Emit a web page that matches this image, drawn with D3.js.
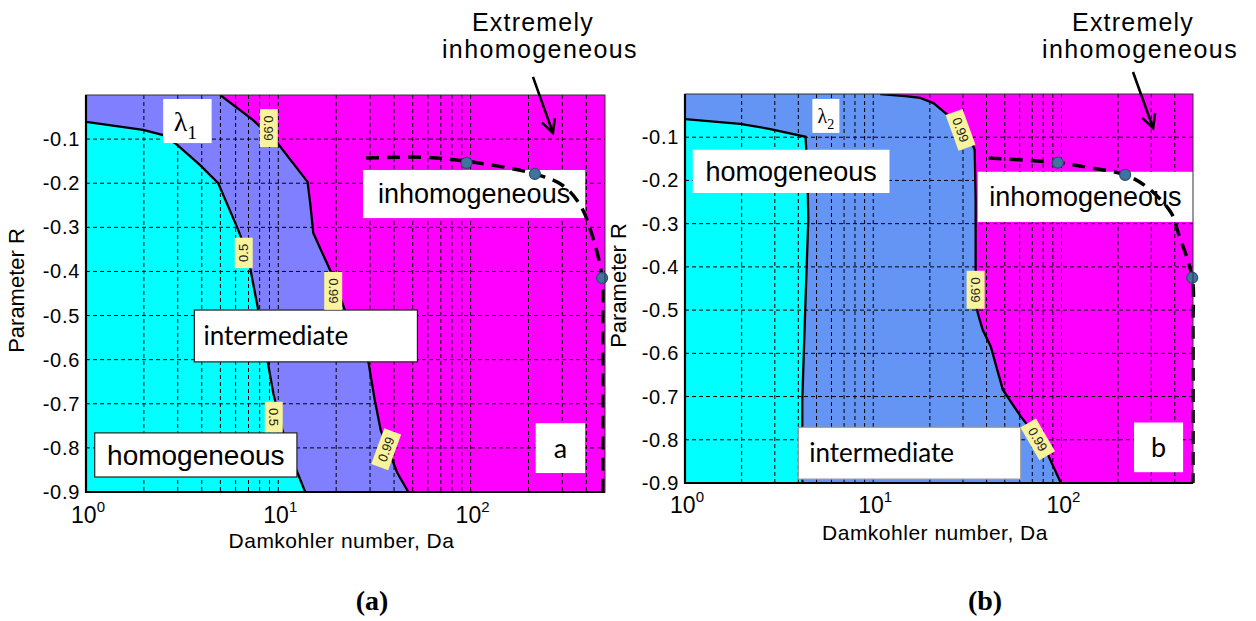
<!DOCTYPE html>
<html><head><meta charset="utf-8">
<script src="https://cdn.jsdelivr.net/npm/d3@7"></script>
<style>body{margin:0;background:#fff}</style>
</head><body>
<svg id="fig" width="1256" height="621"></svg>
<script>
// ---- axis ticks ----
const daDomain = [1, 500];
const rDomain = [-0.9, 0];
const daMajorTicks = [1, 10, 100];
const daGridTicks = [2,3,4,5,6,7,8,9,10,20,30,40,50,60,70,80,90,100,200,300,400];
const rTicks = [-0.1,-0.2,-0.3,-0.4,-0.5,-0.6,-0.7,-0.8,-0.9];

// ---- panel (a): lambda_1 ----
const aContourLow = [[1,-0.061],[1.98,-0.079],[2.52,-0.091],[2.98,-0.113],[3.92,-0.159],[4.87,-0.2],[6.11,-0.3],[6.9,-0.358],[7.87,-0.488],[8.77,-0.6],[9.42,-0.676],[10.5,-0.76],[12.6,-0.857],[13.8,-0.9]];
const aContourHigh = [[4.99,0],[7.4,-0.057],[9.9,-0.109],[14.2,-0.197],[14.7,-0.25],[15.2,-0.313],[19.1,-0.408],[22.2,-0.488],[26.7,-0.556],[29.5,-0.608],[31.7,-0.69],[34.1,-0.76],[41.6,-0.857],[47.5,-0.9]];
const aBoundary = [[28.6,-0.143],[55.5,-0.141],[95.3,-0.150],[216,-0.179],[299,-0.204],[371,-0.249],[428,-0.317],[483,-0.415],[487,-0.533],[487,-0.9]];
const aPoints = [[95.3,-0.154],[216,-0.179],[483,-0.415]];
const aLabelValues = ["0.99","0.5","0.99","0.5","0.99"];
const aLabelAt = [[8.92,-0.075],[6.61,-0.358],[19.3,-0.444],[9.47,-0.73],[36.4,-0.803]];

// ---- panel (b): lambda_2 ----
const bContourLow = [[1,-0.058],[1.96,-0.069],[2.84,-0.081],[4.37,-0.099],[4.47,-0.175],[4.52,-0.29],[4.37,-0.476],[4.2,-0.707],[4.2,-0.9]];
const bContourHigh = [[10.9,0],[14.8,-0.005],[17.8,-0.009],[20.9,-0.021],[24.2,-0.044],[28.1,-0.067],[32.1,-0.095],[34.6,-0.129],[35,-0.245],[35,-0.476],[35.9,-0.506],[38.1,-0.545],[42.1,-0.584],[48.8,-0.684],[60.8,-0.746],[68.7,-0.776],[84.7,-0.834],[99.3,-0.9]];
const bBoundary = [[41.1,-0.148],[95.7,-0.159],[143.5,-0.171],[218,-0.187],[288,-0.217],[383,-0.275],[417,-0.321],[495,-0.425],[500,-0.538],[500,-0.9]];
const bPoints = [[95.7,-0.159],[218,-0.187],[495,-0.425]];
const bLabelValues = ["0.99","0.99","0.99"];
const bLabelAt = [[29.1,-0.083],[35,-0.453],[74.8,-0.799]];

const svg = d3.select("#fig");
const SANS = "'Liberation Sans', Arial, sans-serif";
const SOFT = "Lato, 'Open Sans', sans-serif";

function drawPanel(p) {
  const x = d3.scaleLog().domain(daDomain).range([p.left, p.right]);
  const y = d3.scaleLinear().domain(rDomain).range([p.bottom, p.top]);
  const g = svg.append("g");
  const clipId = "clip-" + p.id;
  g.append("clipPath").attr("id", clipId).append("rect")
    .attr("x", p.left).attr("y", p.top)
    .attr("width", p.right - p.left).attr("height", p.bottom - p.top);
  const line = d3.line().x(d => x(d[0])).y(d => y(d[1]));

  const plot = g.append("g").attr("clip-path", `url(#${clipId})`);
  // filled level regions
  plot.append("rect").attr("x", p.left).attr("y", p.top)
    .attr("width", p.right - p.left).attr("height", p.bottom - p.top)
    .attr("fill", "#ff00ff");
  plot.append("path").attr("d", line(p.high.concat([[1,-0.9],[1,0]])) + "Z")
    .attr("fill", p.midColor);
  plot.append("path").attr("d", line(p.low.concat([[1,-0.9]])) + "Z")
    .attr("fill", "#00ffff");

  // dashed grid
  plot.selectAll(".gx").data(daGridTicks).join("line")
    .attr("x1", d => x(d)).attr("x2", d => x(d))
    .attr("y1", p.top).attr("y2", p.bottom)
    .attr("stroke", "#000").attr("stroke-width", 1).attr("stroke-dasharray", "4,3");
  plot.selectAll(".gy").data(rTicks).join("line")
    .attr("x1", p.left).attr("x2", p.right)
    .attr("y1", d => y(d)).attr("y2", d => y(d))
    .attr("stroke", "#000").attr("stroke-width", 1).attr("stroke-dasharray", "4,3");

  // contour lines
  [p.low, p.high].forEach(c => plot.append("path").attr("d", line(c))
    .attr("fill", "none").attr("stroke", "#000").attr("stroke-width", 2.3));

  // annotation boxes (data coordinates)
  p.boxes.forEach(b => {
    const bx0 = x(b.da[0]), bx1 = x(b.da[1]), by0 = y(b.r[0]), by1 = y(b.r[1]);
    g.append("rect").attr("x", bx0).attr("y", by0)
      .attr("width", bx1 - bx0).attr("height", by1 - by0)
      .attr("fill", "#fff").attr("stroke", b.stroke || "none").attr("stroke-width", 1.2);
    const t = g.append("text").attr("x", (bx0 + bx1) / 2 + (b.dx || 0)).attr("y", (by0 + by1) / 2 + b.size * 0.35)
      .attr("text-anchor", "middle").attr("font-family", b.font).attr("font-size", b.size)
      .attr("fill", "#000");
    if (b.sub) {
      t.append("tspan").text(b.text);
      t.append("tspan").attr("dy", b.size * 0.3).attr("font-size", b.size * 0.7).text(b.sub);
    } else t.text(b.text);
  });

  // inline contour labels
  p.labelValues.forEach((v, i) => {
    const [da, r] = p.labelAt[i];
    const lg = g.append("g").attr("transform", `translate(${x(da)},${y(r)}) rotate(${p.labelAngles[i]})`);
    const w = v.length * 7.5 + 8;
    lg.append("rect").attr("x", -w / 2).attr("y", -9).attr("width", w).attr("height", 18)
      .attr("fill", "#f8f39c");
    lg.append("text").attr("x", 0).attr("y", 4.5).attr("text-anchor", "middle")
      .attr("font-family", SANS).attr("font-size", 13).attr("fill", "#222").text(v);
  });

  // boundary of the extremely inhomogeneous regime
  g.append("path").attr("d", d3.line().curve(d3.curveCatmullRom).x(d => x(d[0])).y(d => y(d[1]))(p.boundary))
    .attr("fill", "none").attr("stroke", "#000").attr("stroke-width", 3.5)
    .attr("stroke-dasharray", "13,8");
  g.selectAll(".pt").data(p.points).join("circle")
    .attr("cx", d => x(d[0])).attr("cy", d => y(d[1])).attr("r", 5.5)
    .attr("fill", "#41739f").attr("stroke", "#2c4f73").attr("stroke-width", 1.2);

  // axes frame
  g.append("rect").attr("x", p.left).attr("y", p.top)
    .attr("width", p.right - p.left).attr("height", p.bottom - p.top)
    .attr("fill", "none").attr("stroke", "#333").attr("stroke-width", 1);
  g.append("path").attr("d", `M${p.left},${p.top}V${p.bottom}H${p.right}`)
    .attr("fill", "none").attr("stroke", "#000").attr("stroke-width", 2.2);

  // tick labels
  g.selectAll(".ty").data(rTicks).join("text")
    .attr("x", p.left - 6).attr("y", d => y(d) + 7)
    .attr("text-anchor", "end").attr("font-family", SANS).attr("font-size", 20)
    .attr("letter-spacing", 0.7).attr("fill", "#000")
    .text(d => d.toFixed(1));
  const tx = g.selectAll(".tx").data(daMajorTicks).join("text")
    .attr("x", d => x(d) + 2).attr("y", p.bottom + p.tickGap)
    .attr("text-anchor", "middle").attr("font-family", SANS).attr("font-size", 23).attr("fill", "#000");
  tx.append("tspan").text("10");
  tx.append("tspan").attr("dy", -11).attr("font-size", 15).text(d => Math.round(Math.log10(d)));

  // axis titles
  g.append("text").attr("x", (p.left + p.right) / 2 - 4).attr("y", p.bottom + p.titleGap)
    .attr("text-anchor", "middle").attr("font-family", SANS).attr("font-size", 21)
    .attr("letter-spacing", 0.5).attr("fill", "#000").text("Damkohler number, Da");
  g.append("text").attr("transform", `translate(${p.yTitleX},${(p.top + p.bottom) / 2 - 3}) rotate(-90)`)
    .attr("text-anchor", "middle").attr("font-family", SANS).attr("font-size", 22)
    .attr("fill", "#000").text("Parameter R");

  // callout above the axes
  const cx = x(p.calloutDa);
  g.append("text").attr("x", cx).attr("y", 31).attr("text-anchor", "middle")
    .attr("font-family", SANS).attr("font-size", 25).attr("letter-spacing", 1.2).attr("fill", "#000").text("Extremely");
  g.append("text").attr("x", cx + 7).attr("y", 58).attr("text-anchor", "middle")
    .attr("font-family", SANS).attr("font-size", 25).attr("letter-spacing", 1.4).attr("fill", "#000").text("inhomogeneous");
  const [s, e] = p.arrow.map(d => [x(d[0]), y(d[1])]);
  const ang = Math.atan2(e[1] - s[1], e[0] - s[0]);
  const head = [ang + Math.PI * 0.85, ang - Math.PI * 0.85].map(a => [e[0] + 15 * Math.cos(a), e[1] + 15 * Math.sin(a)]);
  g.append("path").attr("d", `M${s[0]},${s[1]}L${e[0]},${e[1]}M${head[0][0]},${head[0][1]}L${e[0]},${e[1]}L${head[1][0]},${head[1][1]}`)
    .attr("fill", "none").attr("stroke", "#000").attr("stroke-width", 2.6);

  // panel caption
  g.append("text").attr("x", p.captionX).attr("y", 610).attr("text-anchor", "middle")
    .attr("font-family", "'Liberation Serif', 'Times New Roman', serif").attr("font-weight", "bold")
    .attr("font-size", 28).attr("fill", "#000").text(p.caption);
}

drawPanel({
  id: "a", left: 86, right: 605, top: 95, bottom: 492, tickGap: 31, titleGap: 56, yTitleX: 24,
  midColor: "#7f7fff", low: aContourLow, high: aContourHigh,
  boundary: aBoundary, points: aPoints,
  labelValues: aLabelValues, labelAt: aLabelAt, labelAngles: [90, -90, 90, 90, -70],
  boxes: [
    {da: [2.52, 4.5], r: [-0.009, -0.109], text: "λ", sub: "1", font: "'Liberation Serif', serif", size: 28, dx: -2},
    {da: [27.6, 394], r: [-0.17, -0.279], text: "inhomogeneous", font: SANS, size: 27},
    {da: [3.66, 52.9], r: [-0.4875, -0.605], text: "intermediate", font: SOFT, size: 26, stroke: "#222", dx: -30},
    {da: [1.11, 12.5], r: [-0.766, -0.866], text: "homogeneous", font: SANS, size: 28, stroke: "#222"},
    {da: [218, 394], r: [-0.744, -0.857], text: "a", font: SOFT, size: 27}
  ],
  calloutDa: 211, arrow: [[211, 0.041], [268, -0.086]],
  caption: "(a)", captionX: 372
});

drawPanel({
  id: "b", left: 685, right: 1193, top: 94, bottom: 483, tickGap: 30, titleGap: 57, yTitleX: 626,
  midColor: "#6495f5", low: bContourLow, high: bContourHigh,
  boundary: bBoundary, points: bPoints,
  labelValues: bLabelValues, labelAt: bLabelAt, labelAngles: [70, 90, 60],
  boxes: [
    {da: [4.75, 6.61], r: [-0.0115, -0.09], text: "λ", sub: "2", font: "'Liberation Serif', serif", size: 20},
    {da: [1.1, 12.2], r: [-0.129, -0.229], text: "homogeneous", font: SANS, size: 27},
    {da: [35.9, 501], r: [-0.18, -0.296], text: "inhomogeneous", font: SANS, size: 27},
    {da: [4.0, 60.8], r: [-0.771, -0.891], text: "intermediate", font: SOFT, size: 26, stroke: "#999", dx: -28},
    {da: [243, 443], r: [-0.76, -0.875], text: "b", font: SOFT, size: 27}
  ],
  calloutDa: 240, arrow: [[240, 0.051], [307, -0.079]],
  caption: "(b)", captionX: 985
});
</script>
</body></html>
